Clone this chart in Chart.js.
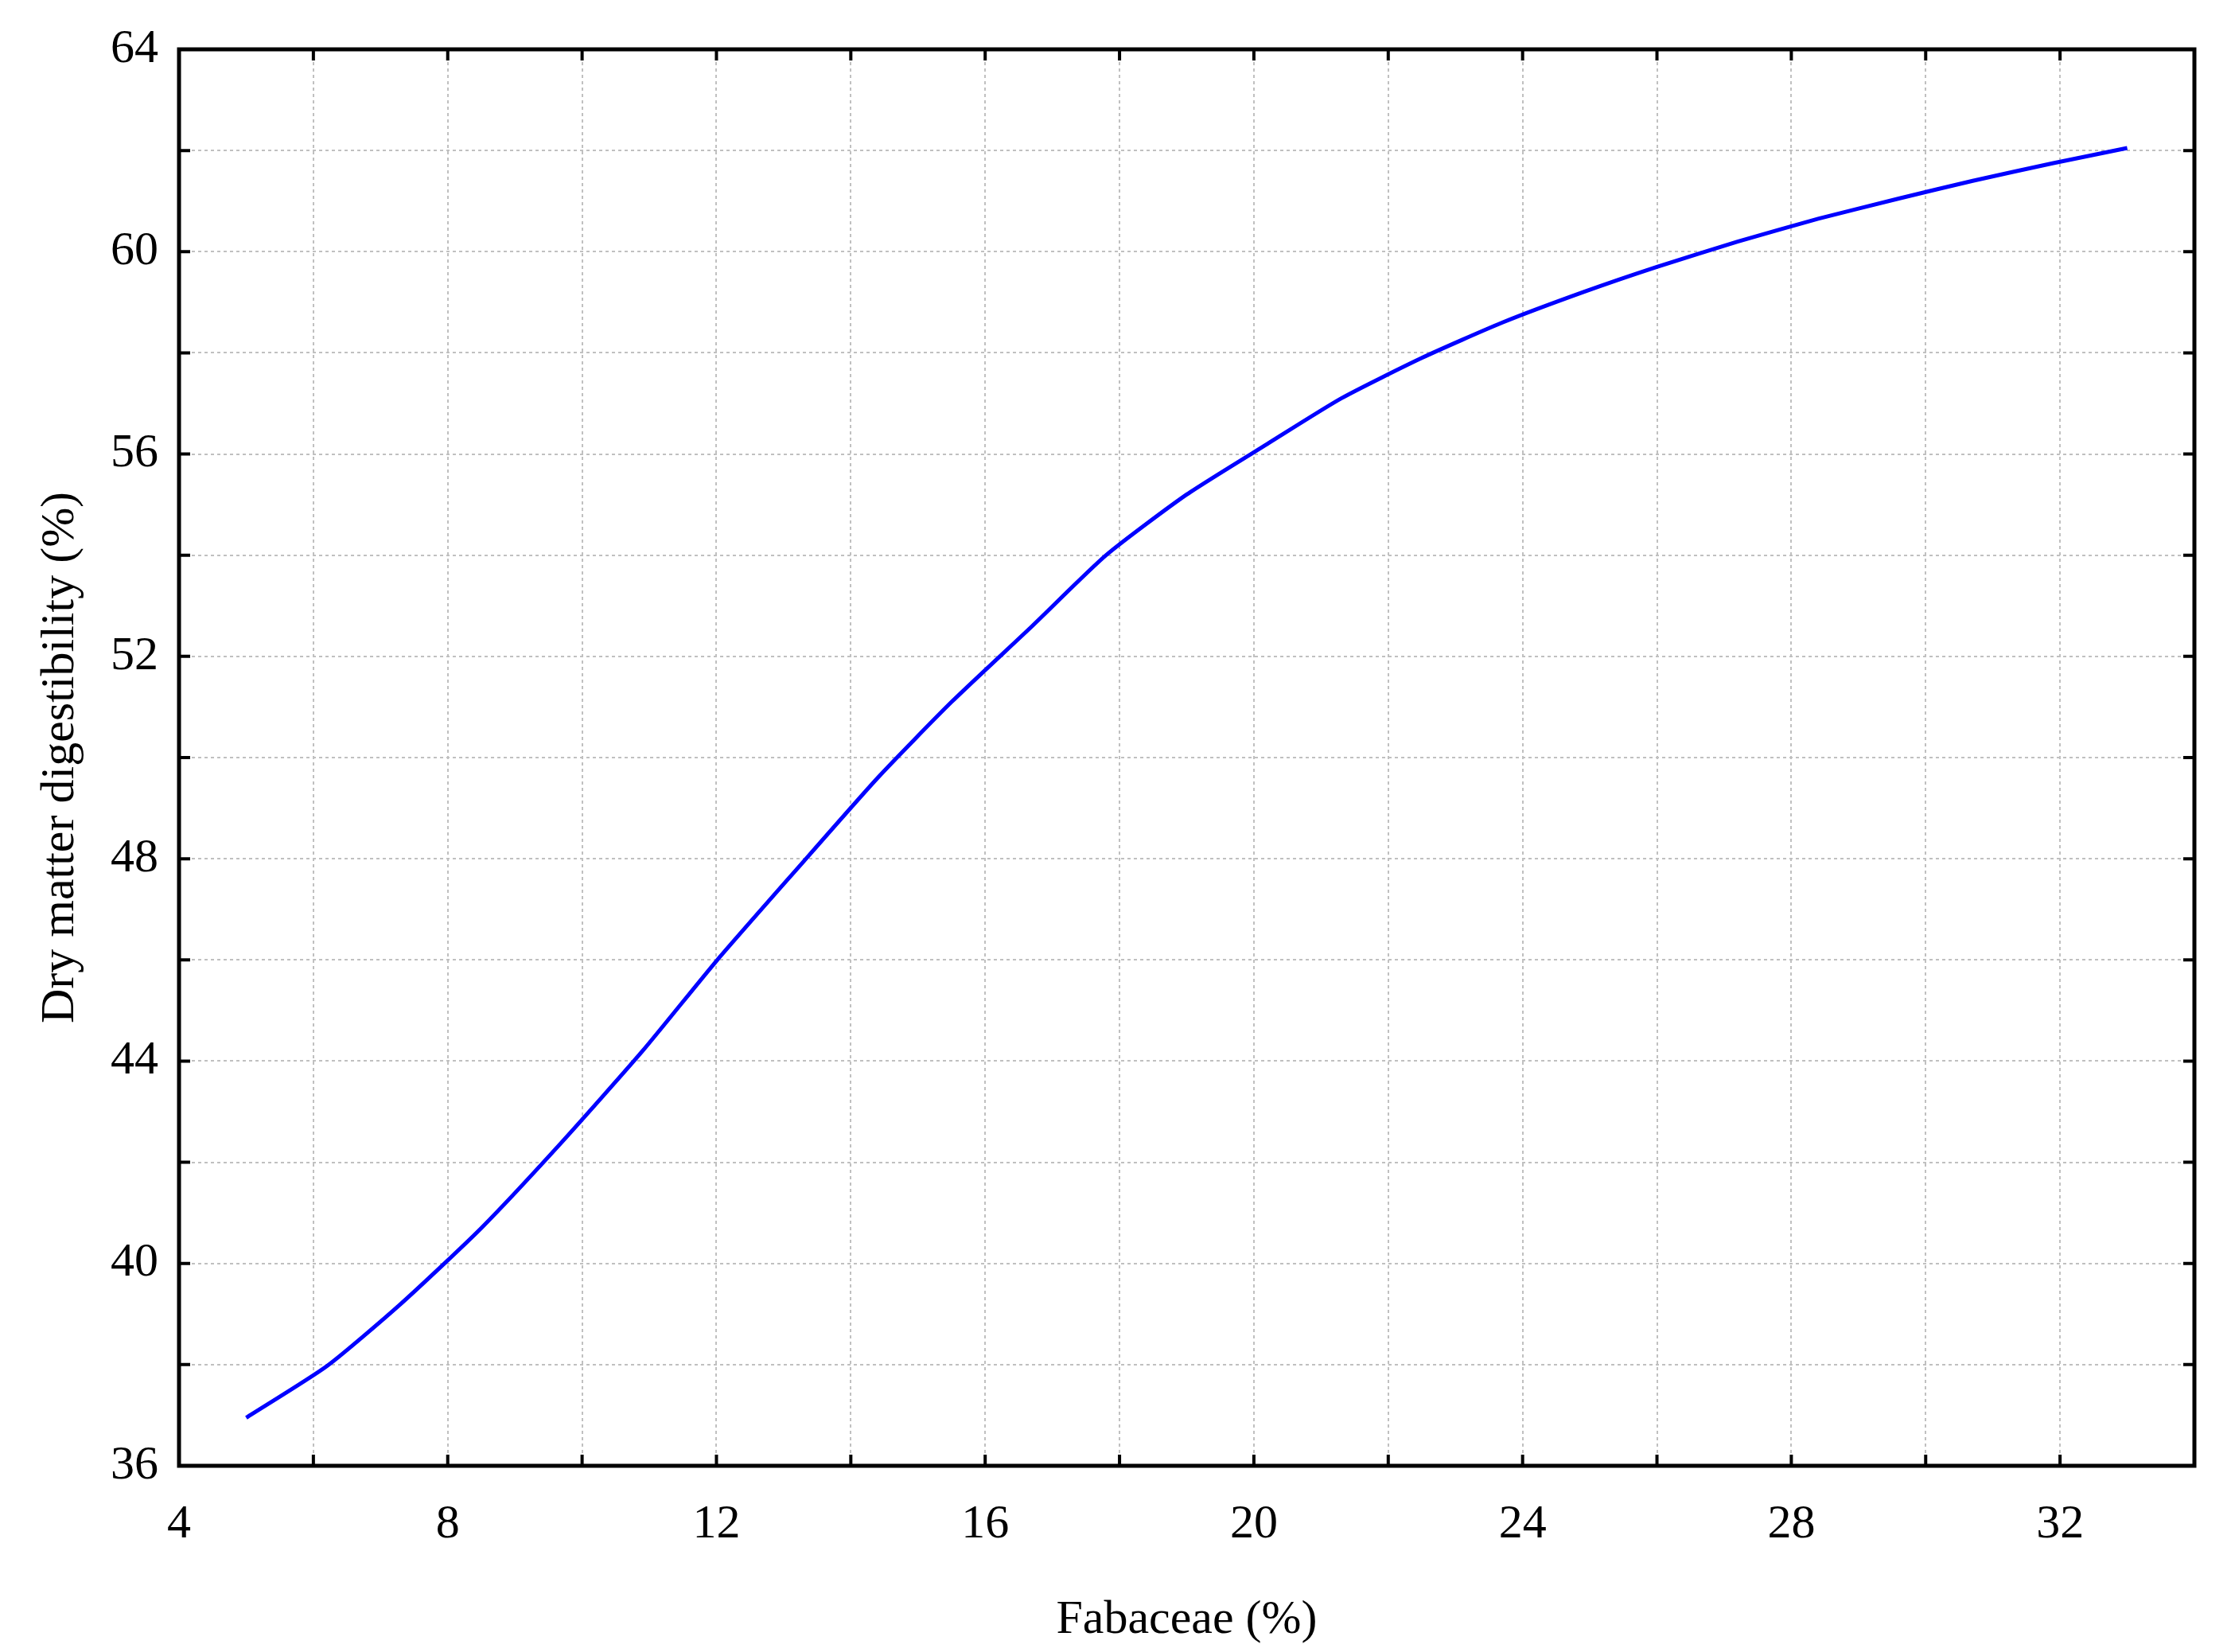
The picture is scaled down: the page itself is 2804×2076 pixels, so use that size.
<!DOCTYPE html>
<html><head><meta charset="utf-8">
<script src="https://cdn.jsdelivr.net/npm/chart.js@4.4.0/dist/chart.umd.min.js"></script>
<style>html,body{margin:0;padding:0;background:#fff;}</style>
</head><body>
<canvas id="c" width="2804" height="2076"></canvas>
<script>
const fabaceae = [5,6.2,7.3,8.5,9.7,10.9,12,13.2,14.4,15.5,16.7,17.8,19,20.2,21.3,22.5,23.7,24.9,26,27.2,28.4,29.6,30.7,31.9,33];
const digestibility = [36.95,37.97,39.2,40.7,42.4,44.2,45.98,47.8,49.6,51.1,52.6,54.0,55.2,56.2,57.1,57.9,58.6,59.2,59.7,60.2,60.65,61.05,61.4,61.75,62.05];
const xTickLabels = [4,8,12,16,20,24,28,32];
const yTickLabels = [36,40,44,48,52,56,60,64];
const FONT = "'Liberation Serif', 'DejaVu Serif', serif";

const frame = {
  id:'frame',
  afterDraw(ch){
    const c=ch.ctx, a=ch.chartArea, xs=ch.scales.x, ys=ch.scales.y;
    c.save(); c.strokeStyle='#000'; c.lineWidth=5;
    c.strokeRect(a.left,a.top,a.right-a.left,a.bottom-a.top);
    c.lineWidth=4;
    for(let v=6; v<34; v+=2){const p=xs.getPixelForValue(v);
      c.beginPath();c.moveTo(p,a.bottom);c.lineTo(p,a.bottom-14);c.moveTo(p,a.top);c.lineTo(p,a.top+14);c.stroke();}
    for(let v=38; v<64; v+=2){const p=ys.getPixelForValue(v);
      c.beginPath();c.moveTo(a.left,p);c.lineTo(a.left+14,p);c.moveTo(a.right,p);c.lineTo(a.right-14,p);c.stroke();}
    c.restore();
  }
};

new Chart(document.getElementById('c'),{
  type:'line',
  data:{datasets:[{data:fabaceae.map((x,i)=>({x,y:digestibility[i]})),borderColor:'#0000ff',borderWidth:5,pointRadius:0,tension:0.2,fill:false}]},
  options:{
    responsive:false,animation:false,devicePixelRatio:1,
    layout:{padding:{top:46,right:46,left:0,bottom:0}},
    plugins:{legend:{display:false},tooltip:{enabled:false}},
    scales:{
      x:{type:'linear',min:4,max:34,
        afterFit(s){s.height=234;},
        ticks:{stepSize:2,autoSkip:false,maxRotation:0,padding:38,color:'#000',font:{family:FONT,size:60},
          callback:v=>xTickLabels.includes(v)?String(v):''},
        grid:{color:'#c0c0c0',lineWidth:2,drawTicks:false},
        border:{display:false,dash:[4,4]},
        title:{display:true,text:'Fabaceae (%)',color:'#000',font:{family:FONT,size:60},padding:{top:42}}},
      y:{type:'linear',min:36,max:64,
        afterFit(s){s.width=225;},
        ticks:{stepSize:2,autoSkip:false,padding:26,color:'#000',font:{family:FONT,size:60},
          callback:v=>yTickLabels.includes(v)?String(v):''},
        grid:{color:'#c0c0c0',lineWidth:2,drawTicks:false},
        border:{display:false,dash:[4,4]},
        title:{display:true,text:'Dry matter digestibility (%)',color:'#000',font:{family:FONT,size:60},padding:{top:40,bottom:14}}}
    }
  },
  plugins:[frame]
});
</script>
</body></html>
